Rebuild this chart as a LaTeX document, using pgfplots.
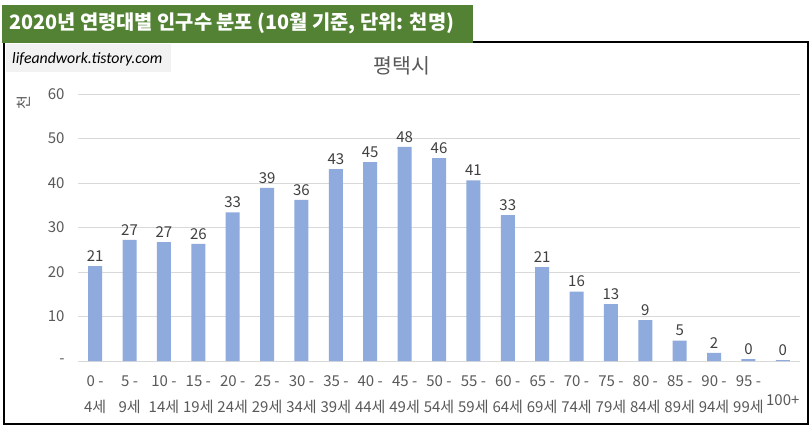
\documentclass[border=0pt]{standalone}
\usepackage{fontspec}
\setmainfont{Noto Sans CJK KR}
\newfontfamily\wm{Carlito}
\usepackage{pgfplots}
\pgfplotsset{compat=1.18}
\definecolor{barc}{HTML}{8FAADC}
\definecolor{banner}{HTML}{548235}
\definecolor{tickc}{HTML}{595959}
\definecolor{labc}{HTML}{404040}
\definecolor{gridc}{HTML}{D9D9D9}
\definecolor{wmbg}{HTML}{F2F2F2}
\begin{document}
\begin{tikzpicture}[x=1pt,y=1pt]
\useasboundingbox (0,0) rectangle (812,-434);
\fill[white] (0,0) rectangle (812,-434);
\draw[black, line width=1.2pt] (4,-42) rectangle (808,-424);
\fill[banner] (2,-5) rectangle (473,-42.6);
\node[anchor=west, text=white, inner sep=0pt, font=\bfseries\fontsize{19.8}{22}\selectfont] at (9,-23.5) {2020년 연령대별 인구수 분포 (10월 기준, 단위: 천명)};
\fill[wmbg] (5.5,-43.5) rectangle (171,-72);
\node[anchor=base west, inner sep=0pt, text=black, font=\wm\itshape\fontsize{15.8}{17}\selectfont] at (12,-63) {lifeandwork.tistory.com};
\node[text=tickc, inner sep=0pt, font=\fontsize{20.5}{22}\selectfont] at (402,-66) {평택시};
\node[rotate=90, text=tickc, inner sep=0pt, font=\fontsize{15}{17}\selectfont] at (24,-103) {천};
\begin{axis}[
  at={(78pt,-361pt)}, anchor=south west,
  scale only axis, width=722pt, height=267pt,
  xmin=-0.5, xmax=20.5, ymin=0, ymax=60,
  axis x line*=bottom, axis y line*=left,
  x axis line style={draw=gridc, line width=0.8pt, -},
  y axis line style={draw=none},
  major tick length=0pt,
  ytick={0,10,20,30,40,50,60},
  yticklabels={-,10,20,30,40,50,60},
  ymajorgrids, grid style={draw=gridc, line width=0.8pt},
  yticklabel style={text=tickc, font=\fontsize{15}{17}\selectfont, xshift=-10pt},
  xtick={0,...,19},
  xticklabels={{0 -\\4세},{5 -\\9세},{10 -\\14세},{15 -\\19세},{20 -\\24세},{25 -\\29세},{30 -\\34세},{35 -\\39세},{40 -\\44세},{45 -\\49세},{50 -\\54세},{55 -\\59세},{60 -\\64세},{65 -\\69세},{70 -\\74세},{75 -\\79세},{80 -\\84세},{85 -\\89세},{90 -\\94세},{95 -\\99세}},
  xticklabel style={text=tickc, align=center, font=\fontsize{15}{26}\selectfont, anchor=north, yshift=-11pt},
  extra x ticks={20},
  extra x tick labels={100+},
  extra x tick style={xticklabel style={yshift=-19pt}},
  ybar, bar width=14pt,
  nodes near coords={\pgfmathprintnumber[fixed,precision=0,assume math mode=true]{\pgfplotspointmeta}},
  every node near coord/.append style={text=labc, font=\fontsize{15}{17}\selectfont, yshift=1pt},
  clip=false,
]
\addplot[fill=barc, draw=none] coordinates {
(0,21.3) (1,27.2) (2,26.7) (3,26.3) (4,33.4) (5,38.9) (6,36.2) (7,43.1) (8,44.7) (9,48.1)
(10,45.6) (11,40.6) (12,32.8) (13,21.1) (14,15.6) (15,12.8) (16,9.2) (17,4.6) (18,1.8) (19,0.4) (20,0.2)
};
\end{axis}
\end{tikzpicture}
\end{document}
